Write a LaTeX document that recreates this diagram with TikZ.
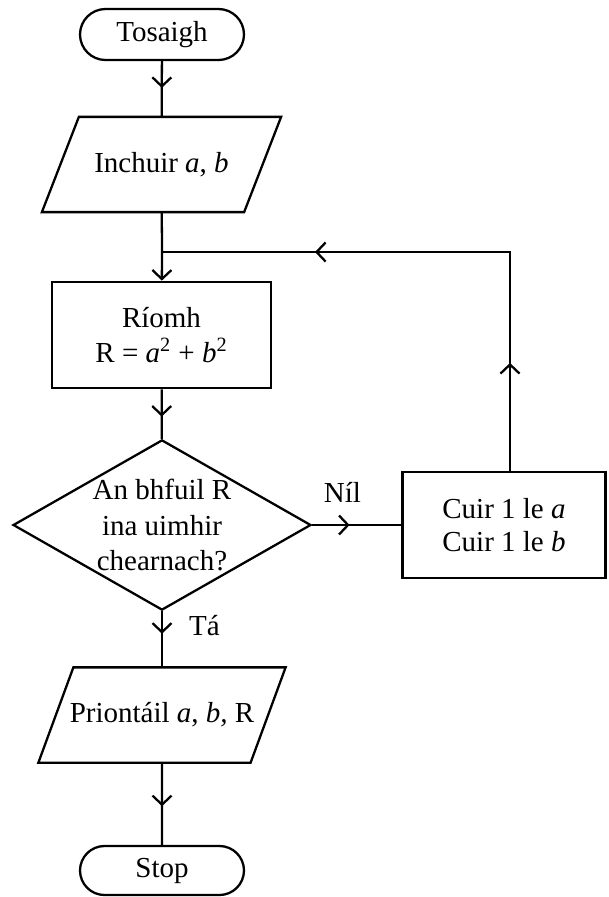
\documentclass[tikz,border=0pt]{standalone}
\usepackage{fontspec}
\setmainfont{Liberation Serif}
\usepackage{tikz}
\usetikzlibrary{arrows.meta}
\usetikzlibrary{shapes.geometric}
\usetikzlibrary{shapes.misc}
\usetikzlibrary{decorations.markings}
\tikzset{
    flowtip/.tip = {Straight Barb[length=0.18cm, width=0.38cm]},
    fnode/.style = {align=center, inner sep=0pt, text centered, draw=black, line width=1.3pt, font=\fontsize{16.5}{20}\selectfont},
    term_node/.style = {fnode, rounded rectangle, minimum width=3.28cm, minimum height=1.02cm},
    io_node/.style = {fnode, draw=none, rectangle, minimum height=1.86cm, minimum width=#1},
    proc_node/.style = {fnode, rectangle, minimum width=#1, minimum height=2.13cm},
    dec_node/.style = {fnode, diamond, aspect=1.75, minimum width=5.88cm, minimum height=3.36cm},
    lbl/.style = {align=center, inner sep=0pt, font=\fontsize{16.5}{20}\selectfont},
    flow/.style = {line width=1.3pt, postaction=decorate, decoration={markings, mark=at position #1 with {\arrow{flowtip}}}},
    flowtwo/.style 2 args = {line width=1.3pt, postaction=decorate, decoration={markings, mark=at position #1 with {\arrow{flowtip}}, mark=at position #2 with {\arrow{flowtip}}}}
}
% slanted outline round an io_node
\newcommand{\ioframe}[2]{%
    \draw [line width=1.3pt] ([xshift=#2]#1.north west) -- ([xshift=#2]#1.north east)
        -- ([xshift=-#2]#1.south east) -- ([xshift=-#2]#1.south west) -- cycle;}

\begin{document}
\begin{tikzpicture}[x=0.02cm, y=-0.02cm]
    \useasboundingbox (0,0) rectangle (609,897);
    % boxes
    \node [term_node] (start) at (162,34.5) {Tosaigh};
    \node [io_node=4cm] (in) at (161.5,164.5) {Inchuir \textit{a}, \textit{b}};
    \ioframe{in}{0.37cm}
    \coordinate (join) at (162,252);
    \node [proc_node=4.38cm] (calc) at (161.5,335) {Ríomh\\R = \textit{a}\textsuperscript{2} + \textit{b}\textsuperscript{2}};
    \node [dec_node] (dec) at (162,525) {An bhfuil R\\ina uimhir\\chearnach?};
    \node [proc_node=4.06cm, font=\fontsize{16.5}{18.5}\selectfont] (add) at (504,525) {Cuir 1 le \textit{a}\\Cuir 1 le \textit{b}};
    \coordinate (corner) at (510,252);
    \node [io_node=4.2cm] (out) at (162,715) {Priontáil \textit{a}, \textit{b,} R};
    \ioframe{out}{0.35cm}
    \node [term_node, minimum height=0.98cm] (stop) at (162,870.5) {Stop};
    % connectors
    \draw [flow=0.48] (start) -- (in);
    \draw [line width=1.3pt] (in) -- (join);
    \draw [line width=1.3pt, -flowtip] (join) -- (calc);
    \draw [flow=0.55] (calc) -- (dec);
    \draw [flow=0.42] (dec) -- node [lbl, pos=0.34, above=0.42cm] (nil) {Níl} (add);
    \draw [flowtwo={0.19}{0.73}] (add.north -| corner) -- (corner) -- (join);
    \draw [flow=0.4] (dec) -- node [lbl, pos=0.26, right=0.52cm] (ta) {Tá} (out);
    \draw [flow=0.53] (out) -- (stop);
\end{tikzpicture}
\end{document}
